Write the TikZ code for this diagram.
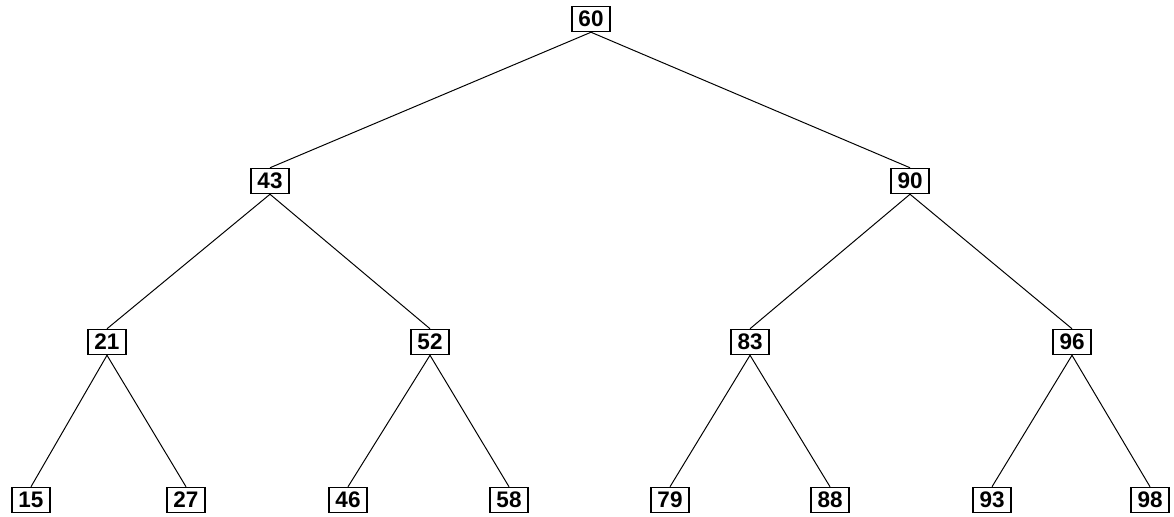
\documentclass[tikz,border=0pt]{standalone}
\usepackage{fontspec}
\newfontfamily\keyfont{Liberation Sans}
\usetikzlibrary{positioning}

\begin{document}
\begin{tikzpicture}[x=0.025cm,y=-0.025cm,
  key/.style={draw,line width=1.2pt,minimum width=0.95cm,minimum height=0.62cm,
    inner sep=0pt,font=\keyfont\bfseries\fontsize{16}{16}\selectfont},
  edge/.style={line width=0.7pt}]
  \useasboundingbox (0,0) rectangle (1174,517);
  % 根
  \node[key] (n60) at (591,19) {60};
  % 第2段
  \node[key] (n43) at (270,181) {43};
  \node[key] (n90) at (910,181) {90};
  % 第3段
  \node[key] (n21) at (107,342) {21};
  \node[key] (n52) at (430,342) {52};
  \node[key] (n83) at (750,342) {83};
  \node[key] (n96) at (1072,342) {96};
  % 葉
  \node[key] (n15) at (31,500) {15};
  \node[key] (n27) at (186,500) {27};
  \node[key] (n46) at (348,500) {46};
  \node[key] (n58) at (509,500) {58};
  \node[key] (n79) at (670,500) {79};
  \node[key] (n88) at (830,500) {88};
  \node[key] (n93) at (992,500) {93};
  \node[key] (n98) at (1150,500) {98};
  % 枝
  \draw[edge] (n60.south) -- (n43.north);
  \draw[edge] (n60.south) -- (n90.north);
  \draw[edge] (n43.south) -- (n21.north);
  \draw[edge] (n43.south) -- (n52.north);
  \draw[edge] (n90.south) -- (n83.north);
  \draw[edge] (n90.south) -- (n96.north);
  \draw[edge] (n21.south) -- (n15.north);
  \draw[edge] (n21.south) -- (n27.north);
  \draw[edge] (n52.south) -- (n46.north);
  \draw[edge] (n52.south) -- (n58.north);
  \draw[edge] (n83.south) -- (n79.north);
  \draw[edge] (n83.south) -- (n88.north);
  \draw[edge] (n96.south) -- (n93.north);
  \draw[edge] (n96.south) -- (n98.north);
\end{tikzpicture}
\end{document}
